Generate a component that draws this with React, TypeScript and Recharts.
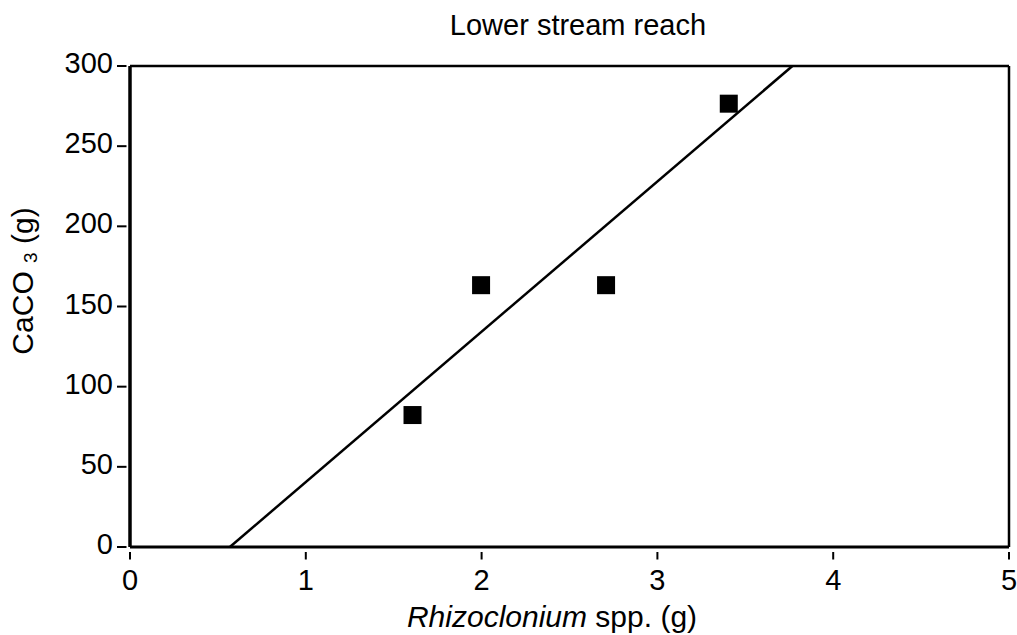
import React from 'react';
import { ComposedChart, Scatter, XAxis, YAxis, ReferenceLine } from 'recharts';

const xValues = [1.607, 1.997, 2.708, 3.406];
const yValues = [82.3, 163.3, 163.3, 276.5];
const fitX = [0.568, 3.768];
const fitY = [0, 300];
const xTicks = [0, 1, 2, 3, 4, 5];
const yTicks = [0, 50, 100, 150, 200, 250, 300];
const chartTitle = 'Lower stream reach';

const points = xValues.map((x, i) => ({ x, y: yValues[i] }));
const fitSegment = fitX.map((x, i) => ({ x, y: fitY[i] }));

const FONT = '"Liberation Sans", Arial, Helvetica, sans-serif';

const YTick = (props: any) => {
  const { x, y, payload } = props;
  return (
    <g>
      <line x1={x - 13} x2={x - 3.5} y1={y} y2={y} stroke="#000" strokeWidth={2} />
      <text x={x - 17} y={y + 7} textAnchor="end" fontSize={29} fontFamily={FONT} fill="#000">
        {payload.value}
      </text>
    </g>
  );
};

const XTick = (props: any) => {
  const { x, y, payload } = props;
  return (
    <g>
      <line x1={x} x2={x} y1={y + 5} y2={y + 12.5} stroke="#000" strokeWidth={2} />
      <text x={x} y={y + 43} textAnchor="middle" fontSize={29} fontFamily={FONT} fill="#000">
        {payload.value}
      </text>
    </g>
  );
};

const Square = (props: any) => {
  const { cx, cy } = props;
  return <rect x={cx - 9} y={cy - 9} width={18} height={18} fill="#000" />;
};

export default function App() {
  return (
    <div style={{ position: 'absolute', left: 0, top: 0, width: 1017, height: 635, background: '#fff' }}>
      <ComposedChart
        width={1017}
        height={635}
        data={points}
        margin={{ top: 66, right: 8, bottom: 48, left: 1 }}
      >
        <XAxis
          type="number"
          dataKey="x"
          domain={[0, 5]}
          ticks={xTicks}
          interval={0}
          height={40}
          tickSize={0}
          tickMargin={0}
          tickLine={false}
          tick={<XTick />}
          axisLine={{ stroke: '#000', strokeWidth: 3 }}
          allowDecimals={false}
        />
        <YAxis
          type="number"
          dataKey="y"
          domain={[0, 300]}
          ticks={yTicks}
          interval={0}
          width={129}
          tickSize={0}
          tickMargin={0}
          tickLine={false}
          tick={<YTick />}
          axisLine={{ stroke: '#000', strokeWidth: 3.5 }}
        />
        <ReferenceLine y={300} stroke="#000" strokeWidth={2.5} />
        <ReferenceLine x={5} stroke="#000" strokeWidth={2.5} />
        <ReferenceLine segment={fitSegment} stroke="#000" strokeWidth={2.5} />
        <Scatter data={points} dataKey="y" shape={<Square />} isAnimationActive={false} />
      </ComposedChart>
      <svg
        width={1017}
        height={635}
        style={{ position: 'absolute', left: 0, top: 0, pointerEvents: 'none' }}
      >
        <text x={578} y={35} textAnchor="middle" fontSize={29} fontFamily={FONT} fill="#000">
          {chartTitle}
        </text>
        <text x={552} y={627} textAnchor="middle" fontSize={30} fontFamily={FONT} fill="#000">
          <tspan fontStyle="italic">Rhizoclonium</tspan>
          <tspan> spp. (g)</tspan>
        </text>
        <text
          x={33}
          y={281}
          textAnchor="middle"
          fontSize={30}
          fontFamily={FONT}
          fill="#000"
          transform="rotate(-90, 33, 281)"
        >
          <tspan>CaCO </tspan>
          <tspan fontSize={19} dy={4}>3</tspan>
          <tspan dy={-4}> (g)</tspan>
        </text>
      </svg>
    </div>
  );
}
